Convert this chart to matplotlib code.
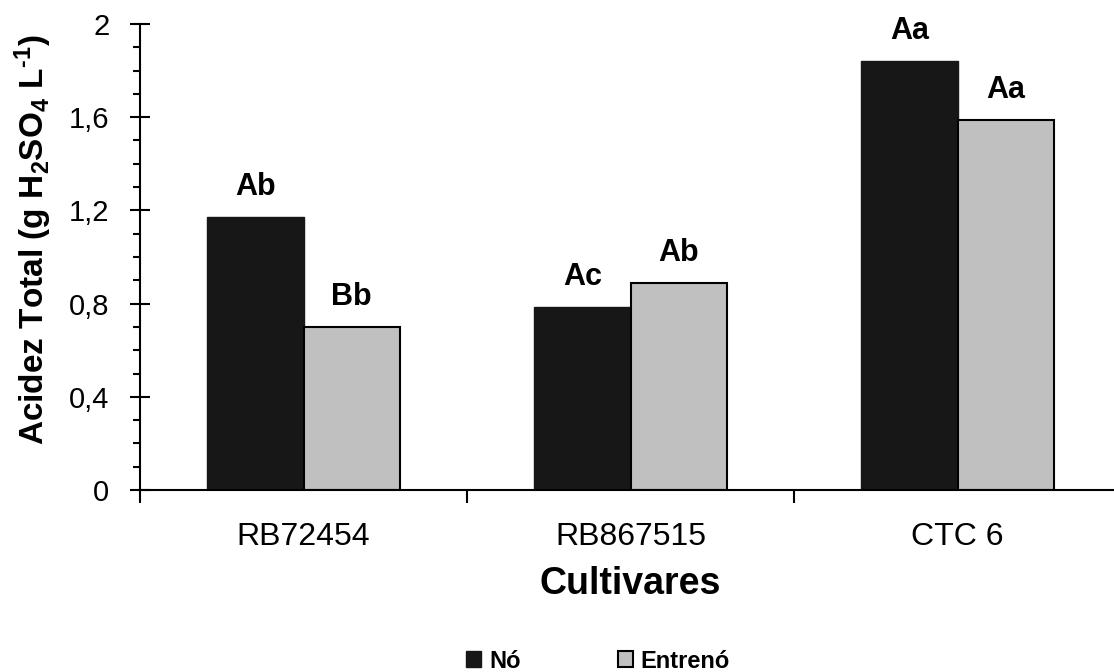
import matplotlib.pyplot as plt
import numpy as np
from matplotlib.ticker import MultipleLocator, FixedLocator

# dados
cultivares = ["RB72454", "RB867515", "CTC 6"]
no_vals = [1.17, 0.785, 1.84]
entreno_vals = [0.70, 0.89, 1.59]
no_letras = ["Ab", "Ac", "Aa"]
entreno_letras = ["Bb", "Ab", "Aa"]

plt.rcParams['font.family'] = ['Liberation Sans', 'DejaVu Sans']
plt.rcParams['mathtext.fontset'] = 'custom'
plt.rcParams['mathtext.rm'] = 'Liberation Sans'
plt.rcParams['mathtext.bf'] = 'Liberation Sans:bold'
plt.rcParams['mathtext.default'] = 'bf'

fig = plt.figure(figsize=(11.14, 6.72), dpi=100)
ax = fig.add_axes([0.1257, 0.2708, 0.8806, 0.6935])

x = np.arange(len(cultivares))
w = 0.294

b1 = ax.bar(x - w / 2, no_vals, w, color='#171717', edgecolor='#171717',
            linewidth=1, label='Nó')
b2 = ax.bar(x + w / 2, entreno_vals, w, color='#c0c0c0', edgecolor='black',
            linewidth=1.5, label='Entrenó')

# letras acima das barras
for xi, v, t in zip(x - w / 2, no_vals, no_letras):
    ax.text(xi, v + 0.094, t, ha='center', va='baseline', fontsize=22,
            fontweight='bold')
for xi, v, t in zip(x + w / 2, entreno_vals, entreno_letras):
    ax.text(xi, v + 0.094, t, ha='center', va='baseline', fontsize=22,
            fontweight='bold')

ax.set_xlim(-0.5, 2.5)
ax.set_ylim(0, 2)

# eixo y
ax.yaxis.set_major_locator(MultipleLocator(0.4))
ax.yaxis.set_minor_locator(MultipleLocator(0.1))
ax.set_yticklabels([f"{v:g}".replace('.', ',') for v in ax.get_yticks()])
ax.tick_params(axis='y', which='major', direction='inout', length=14,
               width=1.5, labelsize=21, pad=15)
ax.tick_params(axis='y', which='minor', direction='out', length=5, width=1.5)

# eixo x: marcas nas divisas, rotulos no centro
ax.xaxis.set_major_locator(FixedLocator([-0.5, 0.5, 1.5, 2.5]))
ax.xaxis.set_minor_locator(FixedLocator(x))
ax.set_xticklabels([], minor=False)
ax.set_xticklabels(cultivares, minor=True)
ax.tick_params(axis='x', which='major', direction='out', length=9, width=1.5)
ax.tick_params(axis='x', which='minor', length=0, labelsize=23, pad=23)

for s in ['top', 'right']:
    ax.spines[s].set_visible(False)
for s in ['left', 'bottom']:
    ax.spines[s].set_linewidth(1.5)

ax.set_xlabel("Cultivares", fontsize=27, fontweight='bold', labelpad=10)
ax.set_ylabel("Acidez Total (g H$_\\mathbf{2}$SO$_\\mathbf{4}$ L$^\\mathbf{\u20101}$)",
              fontsize=24, fontweight='bold')
ax.yaxis.set_label_coords(-0.0877, 0.536)

fig.legend(handles=[b1, b2], labels=['Nó', 'Entrenó'], loc='center',
           bbox_to_anchor=(598 / 1114, 1 - 661 / 672), ncol=2, frameon=False,
           prop={'weight': 'bold', 'size': 17}, handlelength=0.64,
           handleheight=0.64, handletextpad=0.34, columnspacing=4.1,
           borderpad=0, borderaxespad=0)

fig.savefig("out.png", dpi=100)
